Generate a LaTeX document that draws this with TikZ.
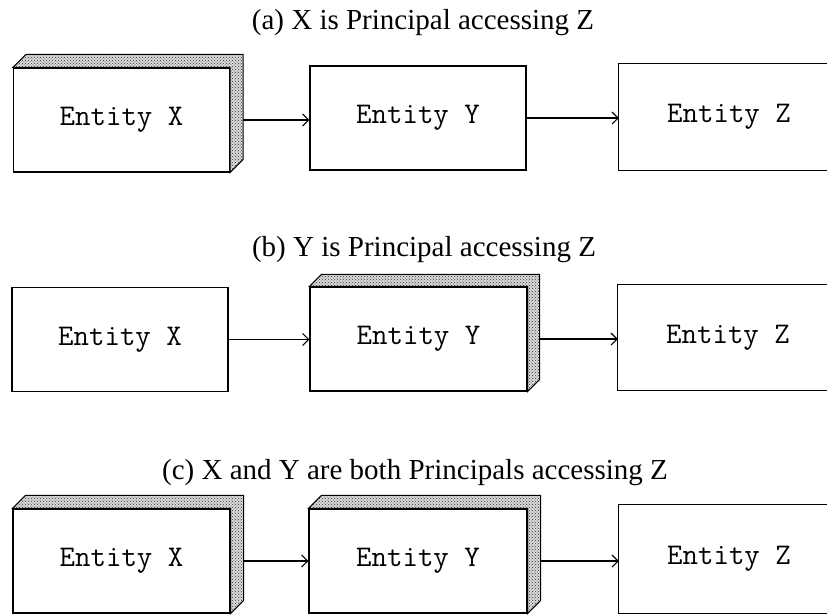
\documentclass[tikz,border=0pt]{standalone}
\usepackage{fontspec}
\setmainfont{Liberation Serif}
\usetikzlibrary{patterns,arrows.meta,calc}
\tikzset{
  front/.style={draw=black, line width=1.2pt, fill=white, inner sep=0pt,
    minimum width=#1, minimum height=104pt, font=\fontsize{30}{30}\ttfamily},
  front/.default=216pt,
  openbox/.style={draw=none, inner sep=0pt, minimum width=220pt,
    minimum height=106pt, font=\fontsize{30}{30}\ttfamily},
  bevel/.style={draw=black, line width=1.1pt, preaction={fill=gray!30},
    pattern=crosshatch dots, pattern color=black!80},
  conn/.style={line width=1.2pt, -{Straight Barb[length=6pt,width=12pt,line width=1.1pt]}},
  title/.style={anchor=base, font=\fontsize{29}{32}\selectfont},
  edge/.style={draw=black, line width=1.2pt}
}
\newcommand{\bevelon}[2]{% node name, depth
  \draw[bevel] (#1.north west) -- ++(#2,-#2) -- ($(#1.north east)+(#2,-#2)$)
     -- ($(#1.south east)+(#2,-#2)$) -- (#1.south east) -- (#1.north east) -- cycle;
  \coordinate (#1-e) at ($(#1.east)+(#2,0)$);
}
\newcommand{\openedge}[1]{%
  \draw[edge] (#1.north east) -- (#1.north west) -- (#1.south west) -- (#1.south east);
}
\begin{document}
\begin{tikzpicture}[x=1pt,y=-1pt]
\useasboundingbox (0,0) rectangle (827,614);

% (a)
\node[title] (ta) at (423,29) {(a) X is Principal accessing Z};
\node[front] (xa) at (121.5,120) {Entity X};
\bevelon{xa}{13}
\node[front] (ya) at (418,118) {Entity Y};
\node[openbox] (za) at (729,117) {Entity Z};
\openedge{za}
\draw[conn] (xa-e) -- (xa-e -| ya.west);
\draw[conn] (ya.east) -- (ya.east -| za.west);

% (b)
\node[title] (tb) at (424,256) {(b) Y is Principal accessing Z};
\node[front] (xb) at (120,339.5) {Entity X};
\node[front=217pt] (yb) at (418.5,339) {Entity Y};
\bevelon{yb}{12}
\node[openbox] (zb) at (728,337.5) {Entity Z};
\openedge{zb}
\draw[conn] (xb.east) -- (xb.east -| yb.west);
\draw[conn] (yb-e) -- (yb-e -| zb.west);

% (c)
\node[title] (tc) at (415,479) {(c) X and Y are both Principals accessing Z};
\node[front=217pt] (xc) at (121.5,561) {Entity X};
\bevelon{xc}{13}
\node[front=218pt] (yc) at (418,561) {Entity Y};
\bevelon{yc}{13}
\node[openbox, minimum height=108pt] (zc) at (729,559) {Entity Z};
\openedge{zc}
\draw[conn] (xc-e) -- (xc-e -| yc.west);
\draw[conn] (yc-e) -- (yc-e -| zc.west);
\end{tikzpicture}
\end{document}
